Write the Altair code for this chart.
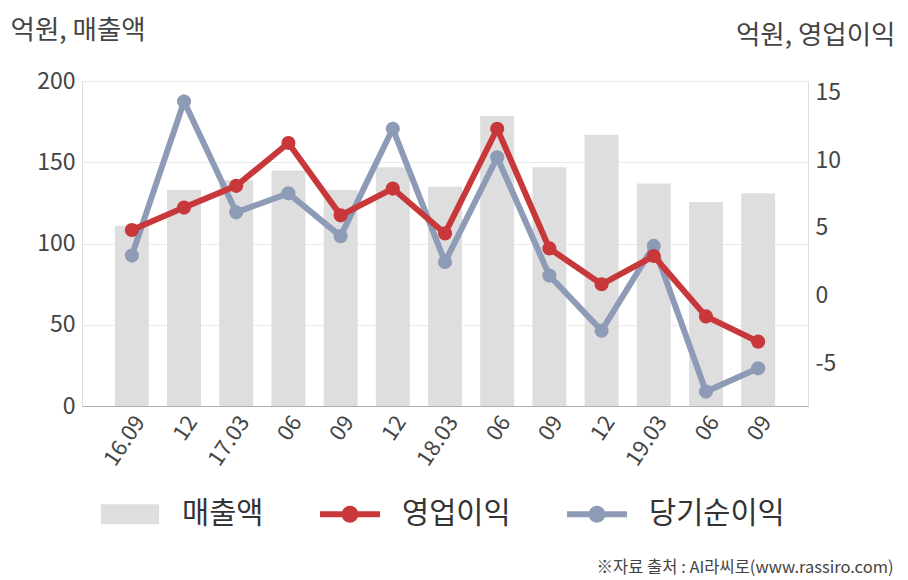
import altair as alt
import pandas as pd

periods = ["16.09", "16.12", "17.03", "17.06", "17.09", "17.12", "18.03",
           "18.06", "18.09", "18.12", "19.03", "19.06", "19.09"]
tick_labels = ["16.09", "12", "17.03", "06", "09", "12", "18.03",
               "06", "09", "12", "19.03", "06", "09"]
sales = [111, 133, 139, 145, 133, 147, 135, 178.5, 147, 167, 137, 125.5, 131]
op_profit = [4.85, 6.5, 8.1, 11.25, 5.93, 7.9, 4.6, 12.3, 3.5, 0.86, 2.94, -1.5, -3.36]
net_profit = [2.97, 14.3, 6.15, 7.55, 4.4, 12.3, 2.5, 10.2, 1.5, -2.55, 3.68, -7.03, -5.32]

series_names = ["매출액", "영업이익", "당기순이익"]
series_colors = ["#dedede", "#c8383a", "#8e9bb6"]
source_text = "※자료 출처 : AI라씨로(www.rassiro.com)"

FONT = "Noto Sans CJK KR"

df = pd.DataFrame({"period": periods, "sales": sales, "op": op_profit, "net": net_profit})
long_df = pd.DataFrame({"series": series_names})

label_expr = "[" + ",".join(f"'{t}'" for t in tick_labels) + "][indexof([" + \
    ",".join(f"'{p}'" for p in periods) + "], datum.value)]"

x_enc = alt.X(
    "period:N", sort=periods,
    scale=alt.Scale(paddingInner=0.35, paddingOuter=0.63),
    axis=alt.Axis(
        title=source_text, titleX=811, titleY=161, titleAlign="right",
        titleBaseline="middle", titleFontSize=16.5, titleFontWeight="normal",
        titleColor="#444", titleFont=FONT,
        labelExpr=label_expr, labelAngle=-56, labelAlign="right",
        labelBaseline="top", labelFontSize=22, labelColor="#444",
        labelPadding=6, ticks=False, domain=True, domainColor="#b0b0b0",
        grid=False, labelFont=FONT,
    ),
)

bars = alt.Chart(df).mark_bar(color=series_colors[0]).encode(
    x=x_enc,
    y=alt.Y(
        "sales:Q", scale=alt.Scale(domain=[0, 200], nice=False),
        axis=alt.Axis(
            values=[0, 50, 100, 150, 200], title="억원, 매출액",
            titleAngle=0, titleX=-72, titleY=-51, titleAlign="left",
            titleBaseline="middle", titleFontSize=26.5, titleFontWeight="normal",
            titleColor="#444", titleFont=FONT,
            grid=True, gridColor="#ebebeb", domain=False, ticks=False,
            labelFontSize=23, labelColor="#444", labelPadding=7, labelFont=FONT,
        ),
    ),
)

right_axis = alt.Axis(
    orient="right", values=[-5, 0, 5, 10, 15], title="억원, 영업이익",
    titleAngle=0, titleX=87, titleY=-46, titleAlign="right",
    titleBaseline="middle", titleFontSize=26.5, titleFontWeight="normal",
    titleColor="#444", titleFont=FONT,
    grid=False, domain=False, ticks=False,
    labelExpr="replace(datum.label, '\u2212', '-')",
    labelFontSize=23, labelColor="#444", labelPadding=7, labelFont=FONT,
)
y_right_scale = alt.Scale(domain=[-8.09, 15.81], nice=False)

net_line = alt.Chart(df).mark_line(
    color=series_colors[2], strokeWidth=6,
    point=alt.OverlayMarkDef(filled=True, size=200, color=series_colors[2]),
).encode(x=alt.X("period:N", sort=periods),
         y=alt.Y("net:Q", scale=y_right_scale, axis=right_axis))

op_line = alt.Chart(df).mark_line(
    color=series_colors[1], strokeWidth=6,
    point=alt.OverlayMarkDef(filled=True, size=200, color=series_colors[1]),
).encode(x=alt.X("period:N", sort=periods),
         y=alt.Y("op:Q", scale=y_right_scale, axis=right_axis))

rect_path = "M-0.97,-0.33H0.97V0.33H-0.97Z"
line_path = ("M-1,-0.1H-0.22V0.1H-1Z M0.22,-0.1H1V0.1H0.22Z "
             "M-0.28,0A0.28,0.28 0 1,1 0.28,0A0.28,0.28 0 1,1 -0.28,0Z")

legend_def = alt.Legend(
    title=None, orient="none", legendX=18, legendY=403, direction="horizontal",
    symbolSize=3600, labelFontSize=29.5, labelColor="#333", labelFont=FONT,
    labelOffset=22, columnPadding=56, symbolStrokeWidth=0,
)

legend_layer = alt.Chart(long_df).transform_filter("false").mark_point(
    filled=True, size=3600, opacity=1
).encode(
    color=alt.Color("series:N", scale=alt.Scale(domain=series_names, range=series_colors),
                    legend=legend_def),
    shape=alt.Shape("series:N", scale=alt.Scale(domain=series_names,
                                                range=[rect_path, line_path, line_path]),
                    legend=legend_def),
)

lines = alt.layer(net_line, op_line)

chart = alt.layer(bars, lines, legend_layer).resolve_scale(y="independent").properties(
    width=726, height=325,
    autosize=alt.AutoSizeParams(type="none"),
    padding={"left": 82, "top": 81, "right": 100, "bottom": 174},
).configure_view(stroke=None).configure(font=FONT)

chart.save("out.html", embed_options={"renderer": "svg", "actions": False})
